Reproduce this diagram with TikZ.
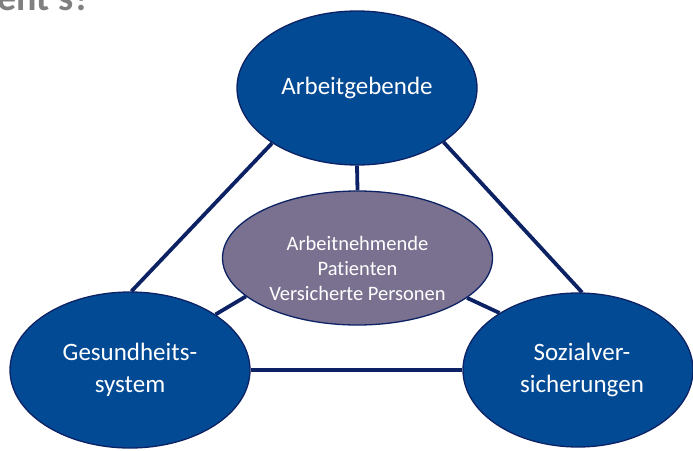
\documentclass[tikz,border=0pt]{standalone}
\usepackage{fontspec}
\setmainfont{Carlito}[Ligatures=NoCommon]
\usetikzlibrary{shapes.geometric}
\definecolor{nodeblue}{HTML}{034A94}
\definecolor{edgenavy}{HTML}{0C2264}
\definecolor{midviolet}{HTML}{7A7090}
\definecolor{titlegray}{HTML}{808080}
\begin{document}
\begin{tikzpicture}[x=1pt,y=-1pt,
  bigell/.style={ellipse, draw=edgenavy, line width=1.3pt, fill=nodeblue, text=white,
    inner sep=0pt, align=center, font=\fontsize{25}{32}\selectfont},
  midell/.style={ellipse, draw=edgenavy, line width=1.3pt, fill=midviolet, inner sep=0pt},
  midtext/.style={text=white, inner sep=0pt, align=center, font=\fontsize{20.5}{25}\selectfont},
  link/.style={draw=edgenavy, line width=3.8pt}]
\useasboundingbox (0,0) rectangle (693,450);
\clip (0,0) rectangle (693,450);
\node[anchor=base west, text=titlegray, font=\bfseries\fontsize{38}{38}\selectfont, inner sep=0pt] (title) at (-3,10) {ent’s?};
\node[bigell, minimum width=240pt, minimum height=154pt] (top) at (357,88) {Arbeitgebende};
\node[midell, minimum width=270pt, minimum height=134pt] (mid) at (357.5,258) {};
\node[midtext] (midlabel) at (357.5,268) {Arbeitnehmende\\Patienten\\Versicherte Personen};
\node[bigell, minimum width=240pt, minimum height=156pt] (left) at (130,370) {Gesundheits-\\system};
\node[bigell, minimum width=230pt, minimum height=154pt] (right) at (578,370) {\hspace*{8pt}Sozialver-\\\hspace*{8pt}sicherungen};
\draw[link] (top.213) -- (left.89);
\draw[link] (top.-32) -- (right.87);
\draw[link] (left.east) -- (right.west);
\draw[link] (top.south) -- (mid.north);
\draw[link] (mid.199) -- (left.33);
\draw[link] (mid.-20) -- (right.144);
\end{tikzpicture}
\end{document}
